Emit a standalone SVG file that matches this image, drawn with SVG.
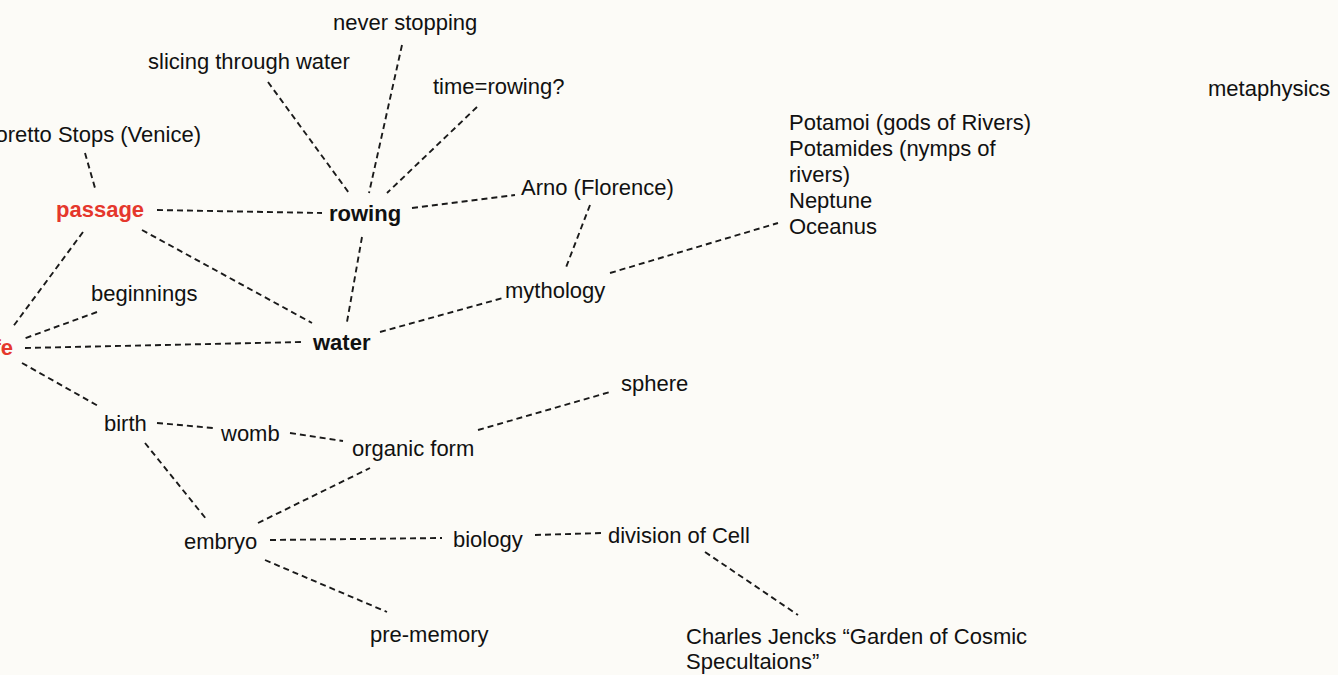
<svg xmlns="http://www.w3.org/2000/svg" width="1338" height="675" viewBox="0 0 1338 675">
<style>
text{font-family:"Liberation Sans",Arial,Helvetica,sans-serif;font-size:22px;fill:#111}
.b{font-weight:bold}
.r{fill:#e5372c;font-weight:bold}
.c line{stroke:#1a1a1a;stroke-width:1.9;stroke-dasharray:6 4;fill:none}
</style>
<rect width="1338" height="675" fill="#fcfbf7"/>
<g id="connectors" class="c">
<line x1="268" y1="82" x2="349" y2="193"/>
<line x1="402" y1="45" x2="369" y2="193"/>
<line x1="477" y1="107" x2="387" y2="193"/>
<line x1="85" y1="153" x2="95" y2="188"/>
<line x1="157" y1="210" x2="322" y2="213"/>
<line x1="412" y1="208" x2="515" y2="195"/>
<line x1="590" y1="205" x2="565" y2="270"/>
<line x1="610" y1="273" x2="778" y2="223"/>
<line x1="380" y1="332" x2="503" y2="298"/>
<line x1="142" y1="230" x2="312" y2="323"/>
<line x1="362" y1="237" x2="347" y2="322"/>
<line x1="83" y1="232" x2="12" y2="328"/>
<line x1="97" y1="312" x2="23" y2="339"/>
<line x1="25" y1="348" x2="302" y2="342"/>
<line x1="22" y1="363" x2="100" y2="407"/>
<line x1="157" y1="423" x2="213" y2="428"/>
<line x1="290" y1="433" x2="343" y2="441"/>
<line x1="478" y1="430" x2="610" y2="392"/>
<line x1="145" y1="443" x2="207" y2="520"/>
<line x1="258" y1="523" x2="370" y2="468"/>
<line x1="270" y1="540" x2="442" y2="538"/>
<line x1="265" y1="560" x2="387" y2="612"/>
<line x1="535" y1="535" x2="603" y2="533"/>
<line x1="705" y1="552" x2="798" y2="615"/>
</g>
<g id="never-stopping"><text x="333" y="30">never stopping</text></g>
<g id="slicing"><text x="148" y="69">slicing through water</text></g>
<g id="time-rowing"><text x="433" y="94">time=rowing?</text></g>
<g id="vaporetto"><text x="201" y="142" text-anchor="end">Vaporetto Stops (Venice)</text></g>
<g id="passage"><text class="r" x="56" y="217">passage</text></g>
<g id="rowing"><text class="b" x="329" y="221">rowing</text></g>
<g id="arno"><text x="521" y="195">Arno (Florence)</text></g>
<g id="gods"><text x="789" y="130">Potamoi (gods of Rivers)</text><text x="789" y="156">Potamides (nymps of</text><text x="789" y="182">rivers)</text><text x="789" y="208">Neptune</text><text x="789" y="234">Oceanus</text></g>
<g id="metaphysics"><text x="1208" y="96">metaphysics</text></g>
<g id="mythology"><text x="505" y="298">mythology</text></g>
<g id="beginnings"><text x="91" y="301">beginnings</text></g>
<g id="water"><text class="b" x="313" y="350">water</text></g>
<g id="life"><text class="r" x="13" y="355" text-anchor="end">life</text></g>
<g id="birth"><text x="104" y="431">birth</text></g>
<g id="womb"><text x="221" y="441">womb</text></g>
<g id="organic-form"><text x="352" y="456">organic form</text></g>
<g id="sphere"><text x="621" y="391">sphere</text></g>
<g id="embryo"><text x="184" y="549">embryo</text></g>
<g id="biology"><text x="453" y="547">biology</text></g>
<g id="division"><text x="608" y="543">division of Cell</text></g>
<g id="pre-memory"><text x="370" y="642">pre-memory</text></g>
<g id="jencks"><text x="686" y="644">Charles Jencks “Garden of Cosmic</text><text x="686" y="669">Specultaions”</text></g>
</svg>
